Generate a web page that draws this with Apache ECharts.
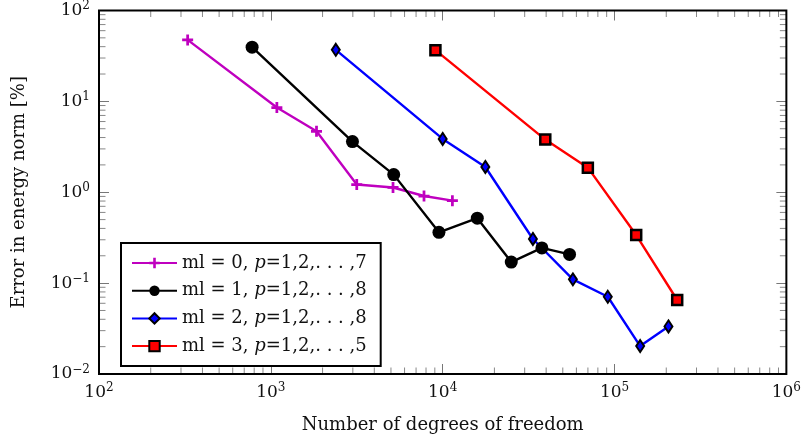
<!DOCTYPE html>
<html>
<head>
<meta charset="utf-8">
<script src="https://cdn.jsdelivr.net/npm/echarts@6/dist/echarts.min.js"></script>
<style>html,body{margin:0;padding:0;background:#fff;}#c{width:804px;height:439px;}</style>
</head>
<body>
<div id="c"></div>
<script>
// ---- data ----
const ml0_dof = [328, 1084, 1844, 3162, 5140, 7786, 11390];
const ml0_err = [47.5, 8.55, 4.68, 1.216, 1.128, 0.909, 0.808];
const ml1_dof = [778, 2985, 5188, 9510, 15900, 25070, 37790, 54730];
const ml1_err = [39.5, 3.61, 1.563, 0.362, 0.518, 0.1705, 0.244, 0.207];
const ml2_dof = [2388, 10000, 17710, 33500, 57240, 91380, 141000, 206000];
const ml2_err = [36.9, 3.86, 1.897, 0.306, 0.110, 0.0708, 0.0203, 0.0334];
const ml3_dof = [9072, 39540, 69950, 133700, 231600];
const ml3_err = [36.6, 3.80, 1.864, 0.338, 0.0652];
const seriesNames = ['ml0', 'ml1', 'ml2', 'ml3'];
const legendLabels = [
  ['ml = 0, ', 'p', '=1,2,. . . ,7'],
  ['ml = 1, ', 'p', '=1,2,. . . ,8'],
  ['ml = 2, ', 'p', '=1,2,. . . ,8'],
  ['ml = 3, ', 'p', '=1,2,. . . ,5']
];
const xMin = 100, xMax = 1e6, yMin = 0.01, yMax = 100;
const xTitle = 'Number of degrees of freedom';
const yTitle = 'Error in energy norm [%]';

// minor tick values
function minorVals(lo, hi) {
  const out = [];
  for (let e = Math.round(Math.log10(lo)); e < Math.round(Math.log10(hi)); e++) {
    for (let m = 2; m <= 9; m++) out.push(m * Math.pow(10, e));
  }
  return out;
}
const xMinor = minorVals(xMin, xMax);
const yMinor = minorVals(yMin, yMax);

const FONT = 'DejaVu Serif';
const TXT = '#111';
const zip = (a, b) => a.map((v, i) => [v, b[i]]);

function expLabel(v) {
  const e = Math.round(Math.log10(v));
  return '{b|10}{s|' + (e < 0 ? '\u2212' + (-e) : e) + '}';
}
const labelRich = {
  b: { fontFamily: FONT, fontSize: 17, color: TXT },
  s: { fontFamily: FONT, fontSize: 12, color: TXT, verticalAlign: 'bottom', padding: [0, 0, 9, 0] }
};
const tickStyle = { show: true, inside: true, length: 10, lineStyle: { color: '#777', width: 1 } };

const plusPath = 'path://M4.5,0 L7.5,0 L7.5,4.5 L12,4.5 L12,7.5 L7.5,7.5 L7.5,12 L4.5,12 L4.5,7.5 L0,7.5 L0,4.5 L4.5,4.5 Z';

const chart = echarts.init(document.getElementById('c'), null, { renderer: 'canvas' });

const minorTickSeries = (vals, isX) => ({
  type: 'custom',
  name: isX ? 'xminor' : 'yminor',
  silent: true,
  clip: false,
  z: 1,
  data: vals.map(v => isX ? [v, 1] : [1000, v]),
  renderItem: function (params, api) {
    const L = 6.5;
    if (isX) {
      const v = api.value(0);
      const p0 = api.coord([v, yMin]);
      const p1 = api.coord([v, yMax]);
      return { type: 'group', children: [
        { type: 'line', shape: { x1: p0[0], y1: p0[1], x2: p0[0], y2: p0[1] - L }, style: { stroke: '#888', lineWidth: 1 } },
        { type: 'line', shape: { x1: p1[0], y1: p1[1], x2: p1[0], y2: p1[1] + L }, style: { stroke: '#888', lineWidth: 1 } }
      ]};
    } else {
      const v = api.value(1);
      const p0 = api.coord([xMin, v]);
      const p1 = api.coord([xMax, v]);
      return { type: 'group', children: [
        { type: 'line', shape: { x1: p0[0], y1: p0[1], x2: p0[0] + L, y2: p0[1] }, style: { stroke: '#888', lineWidth: 1 } },
        { type: 'line', shape: { x1: p1[0], y1: p1[1], x2: p1[0] - L, y2: p1[1] }, style: { stroke: '#888', lineWidth: 1 } }
      ]};
    }
  }
});

const option = {
  animation: false,
  backgroundColor: '#fff',
  grid: { left: 99, right: 17, top: 7, bottom: 65, show: true, borderColor: '#000', borderWidth: 2, backgroundColor: 'transparent', z: 10 },
  legend: {
    orient: 'vertical',
    left: 121, top: 243,
    data: seriesNames,
    itemWidth: 45, itemHeight: 13, itemGap: 9.7,
    padding: [11, 14, 11, 10],
    backgroundColor: '#fff', borderColor: '#000', borderWidth: 2, borderRadius: 0,
    z: 20,
    textStyle: {
      fontFamily: FONT, fontSize: 18, color: TXT, lineHeight: 17,
      rich: {
        n: { fontFamily: FONT, fontSize: 18, color: TXT, lineHeight: 17 },
        i: { fontFamily: FONT, fontSize: 18, fontStyle: 'italic', color: TXT, lineHeight: 17 }
      }
    },
    formatter: function (name) {
      const l = legendLabels[seriesNames.indexOf(name)];
      return '{n|' + l[0] + '}{i|' + l[1] + '}{n|' + l[2] + '}';
    }
  },
  xAxis: [
    { type: 'log', logBase: 10, min: xMin, max: xMax, position: 'bottom',
      axisLine: { show: false }, axisTick: tickStyle, splitLine: { show: false },
      axisLabel: { formatter: expLabel, rich: labelRich, margin: 8 },
      name: xTitle, nameLocation: 'middle', nameGap: 42,
      nameTextStyle: { fontFamily: FONT, fontSize: 18, color: TXT } },
    { type: 'log', logBase: 10, min: xMin, max: xMax, position: 'top',
      axisLine: { show: false }, axisTick: tickStyle, splitLine: { show: false },
      axisLabel: { show: false } }
  ],
  yAxis: [
    { type: 'log', logBase: 10, min: yMin, max: yMax, position: 'left',
      axisLine: { show: false }, axisTick: tickStyle, splitLine: { show: false },
      axisLabel: { formatter: expLabel, rich: labelRich, margin: 9 },
      name: yTitle, nameLocation: 'middle', nameGap: 71, nameRotate: 90,
      nameTextStyle: { fontFamily: FONT, fontSize: 18, color: TXT } },
    { type: 'log', logBase: 10, min: yMin, max: yMax, position: 'right',
      axisLine: { show: false }, axisTick: tickStyle, splitLine: { show: false },
      axisLabel: { show: false } }
  ],
  series: [
    minorTickSeries(xMinor, true),
    minorTickSeries(yMinor, false),
    { name: 'ml0', type: 'line', data: zip(ml0_dof, ml0_err), z: 3,
      lineStyle: { color: '#bf00bf', width: 2.4 }, itemStyle: { color: '#bf00bf', borderWidth: 0 },
      symbol: plusPath, symbolSize: 11, showAllSymbol: true, color: '#bf00bf' },
    { name: 'ml1', type: 'line', data: zip(ml1_dof, ml1_err), z: 3,
      lineStyle: { color: '#000', width: 2.4 }, itemStyle: { color: '#000', borderWidth: 0 },
      symbol: 'circle', symbolSize: 13, showAllSymbol: true, color: '#000' },
    { name: 'ml2', type: 'line', data: zip(ml2_dof, ml2_err), z: 3,
      lineStyle: { color: '#0000ff', width: 2.4 }, itemStyle: { color: '#0000ff', borderColor: '#000', borderWidth: 2 },
      symbol: 'diamond', symbolSize: [8, 12], showAllSymbol: true, color: '#0000ff' },
    { name: 'ml3', type: 'line', data: zip(ml3_dof, ml3_err), z: 3,
      lineStyle: { color: '#ff0000', width: 2.4 }, itemStyle: { color: '#ff0000', borderColor: '#000', borderWidth: 2.5 },
      symbol: 'rect', symbolSize: 10, showAllSymbol: true, color: '#ff0000' }
  ]
};
chart.setOption(option);
</script>
</body>
</html>
